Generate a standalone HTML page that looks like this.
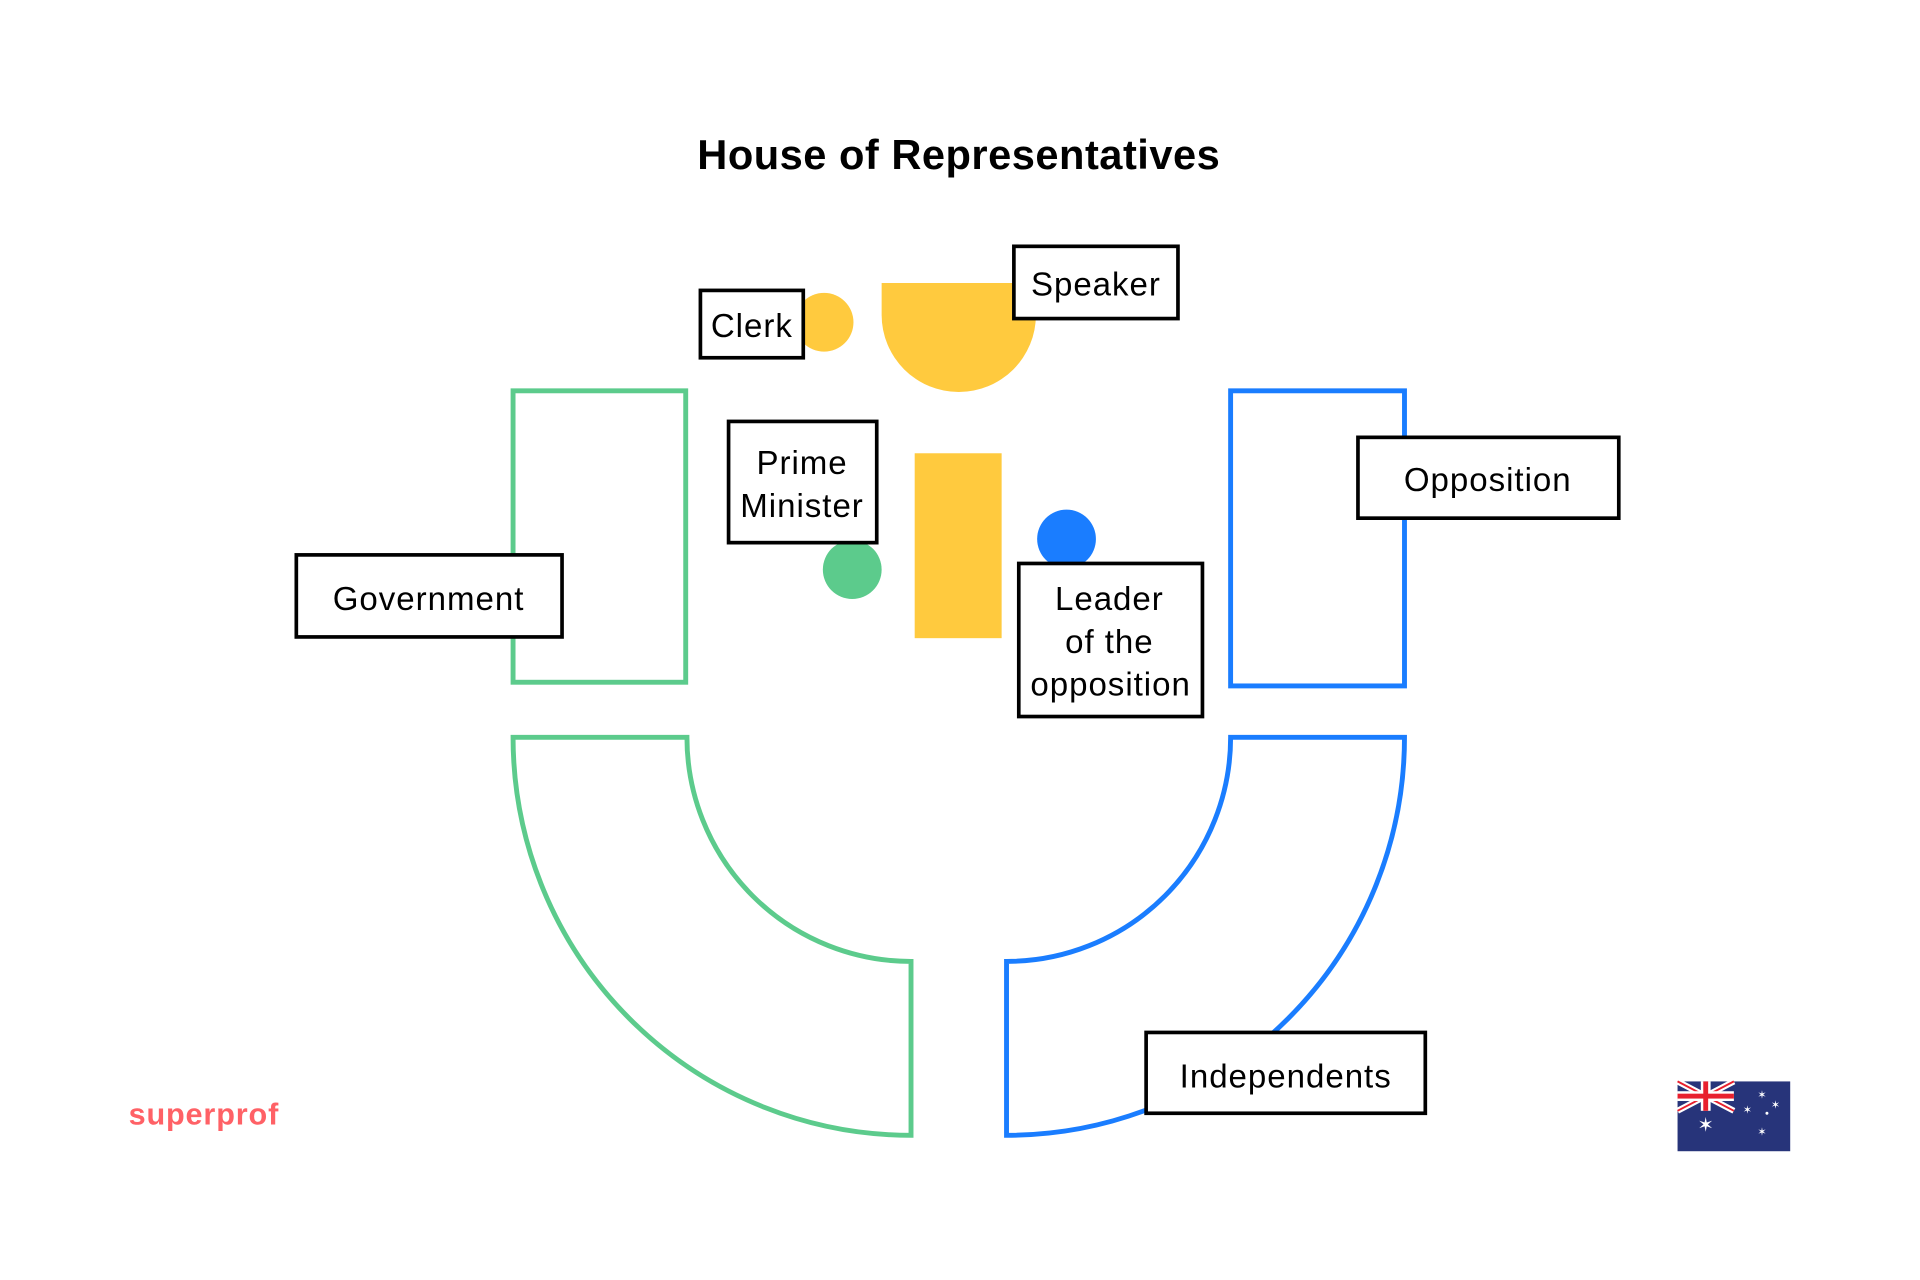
<!DOCTYPE html>
<html><head><meta charset="utf-8"><style>
html,body{margin:0;padding:0;background:#fff;width:1920px;height:1280px;overflow:hidden}
svg{display:block}
text{font-family:"Liberation Sans",sans-serif}
</style></head><body>
<svg width="1920" height="1280" viewBox="0 0 1568 1045" xmlns="http://www.w3.org/2000/svg">
<rect width="1568" height="1045" fill="#fff"/>
<text x="783" y="138" text-anchor="middle" font-size="34" font-weight="bold" fill="#000" letter-spacing="0.4">House of Representatives</text>

<rect x="419" y="319" width="141" height="238" fill="none" stroke="#5CCB8C" stroke-width="4"/>
<rect x="1005" y="319" width="142" height="241" fill="none" stroke="#1A7DFF" stroke-width="4"/>
<path d="M419,602 H561 A183,183 0 0 0 744,785 V927 A325,325 0 0 1 419,602 Z" fill="none" stroke="#5CCB8C" stroke-width="4"/>
<path d="M1147,602 H1005 A183,183 0 0 1 822,785 V927 A325,325 0 0 0 1147,602 Z" fill="none" stroke="#1A7DFF" stroke-width="4"/>

<path d="M720,231 H846 V257 A63,63 0 0 1 720,257 Z" fill="#FFCA3E"/>
<circle cx="673" cy="263" r="24" fill="#FFCA3E"/>
<rect x="747" y="370" width="71" height="151" fill="#FFCA3E"/>
<circle cx="696" cy="465" r="24" fill="#5CCB8C"/>
<circle cx="871" cy="440" r="24" fill="#1A7DFF"/>

<g fill="#fff" stroke="#000" stroke-width="3">
<rect x="572" y="237" width="84" height="55"/>
<rect x="828" y="201" width="134" height="59"/>
<rect x="595" y="344" width="121" height="99"/>
<rect x="242" y="453" width="217" height="67"/>
<rect x="1109" y="357" width="213" height="66"/>
<rect x="832" y="460" width="150" height="125"/>
<rect x="936" y="843" width="228" height="66"/>
</g>
<g font-size="27" fill="#000" text-anchor="middle" letter-spacing="0.8">
<text x="614" y="275">Clerk</text>
<text x="895" y="241">Speaker</text>
<text x="655" y="387">Prime</text>
<text x="655" y="422">Minister</text>
<text x="350" y="498">Government</text>
<text x="1215" y="401">Opposition</text>
<text x="906" y="498">Leader</text>
<text x="906" y="533">of the</text>
<text x="907" y="568">opposition</text>
<text x="1050" y="888">Independents</text>
</g>

<text x="105" y="918" font-size="25" font-weight="bold" fill="#FF6166" letter-spacing="0.7">superprof</text>

<g>
<rect x="1370" y="883" width="92" height="57" fill="#27347A"/>
<g>
<path d="M1370,883 L1416,907 M1416,883 L1370,907" stroke="#fff" stroke-width="5"/>
<path d="M1370,883 L1416,907 M1416,883 L1370,907" stroke="#E8202E" stroke-width="1.6"/>
<rect x="1389" y="883" width="8" height="24" fill="#fff"/>
<rect x="1370" y="891" width="46" height="8" fill="#fff"/>
<rect x="1391" y="883" width="4" height="24" fill="#E8202E"/>
<rect x="1370" y="893" width="46" height="4" fill="#E8202E"/>
</g>
<g fill="#fff" font-size="9" text-anchor="middle">
<text x="1393" y="924" font-size="16">✶</text>
<text x="1439" y="897">✶</text>
<text x="1427" y="909">✶</text>
<text x="1450" y="905">✶</text>
<text x="1439" y="927">✶</text>
<circle cx="1443" cy="909" r="1.2"/>
</g>
</g>
</svg>
</body></html>
